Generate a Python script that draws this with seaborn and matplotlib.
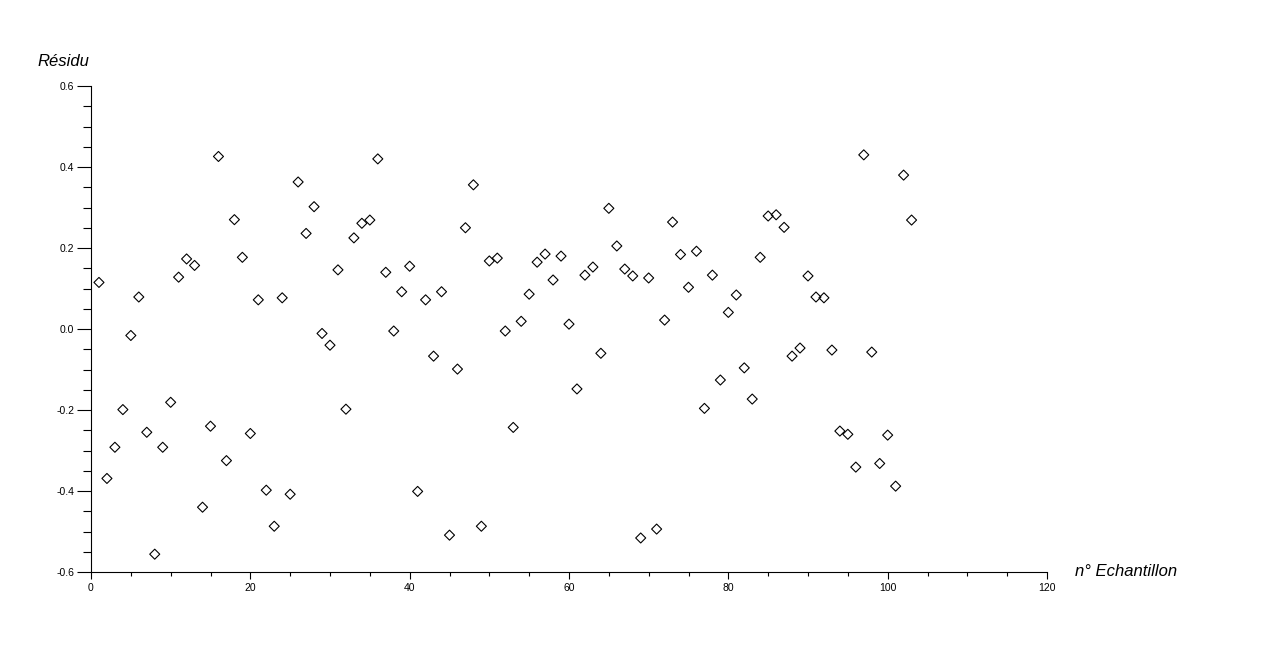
import numpy as np
import pandas as pd
import matplotlib
matplotlib.use('Agg')
import matplotlib.pyplot as plt
import seaborn as sns
from matplotlib.ticker import MultipleLocator

# Residuals per sample
echantillon = list(range(1, 104))
residu = [
    0.115, -0.369, -0.292, -0.199, -0.016, 0.079, -0.255, -0.556, -0.292, -0.181,
    0.128, 0.173, 0.157, -0.440, -0.240, 0.426, -0.325, 0.270, 0.177, -0.258,
    0.072, -0.398, -0.487, 0.077, -0.408, 0.363, 0.236, 0.302, -0.011, -0.040,
    0.146, -0.198, 0.225, 0.261, 0.269, 0.420, 0.140, -0.005, 0.092, 0.155,
    -0.401, 0.072, -0.067, 0.092, -0.509, -0.099, 0.250, 0.356, -0.487, 0.168,
    0.175, -0.005, -0.243, 0.019, 0.086, 0.165, 0.185, 0.121, 0.180, 0.012,
    -0.148, 0.133, 0.153, -0.060, 0.298, 0.205, 0.148, 0.131, -0.516, 0.126,
    -0.494, 0.022, 0.264, 0.184, 0.103, 0.192, -0.196, 0.133, -0.126, 0.041,
    0.084, -0.096, -0.173, 0.177, 0.279, 0.282, 0.251, -0.067, -0.047, 0.131,
    0.079, 0.077, -0.052, -0.252, -0.260, -0.341, 0.430, -0.057, -0.332, -0.262,
    -0.388, 0.380, 0.269,
]

df = pd.DataFrame({'n': echantillon, 'residu': residu})

sns.set_style('ticks')
plt.rcParams['font.family'] = ['Liberation Sans', 'DejaVu Sans']
plt.rcParams['axes.unicode_minus'] = False
plt.rcParams['text.color'] = 'black'
plt.rcParams['xtick.color'] = 'black'
plt.rcParams['ytick.color'] = 'black'

fig = plt.figure(figsize=(12.76, 6.49), dpi=100)
ax = fig.add_axes([91 / 1276, 1 - 572 / 649, (1047 - 91) / 1276, (572 - 86) / 649])

sns.scatterplot(data=df, x='n', y='residu', marker='D', s=26,
                facecolors='none', edgecolor='black', linewidth=0.8, ax=ax)

ax.set_xlim(0, 120)
ax.set_ylim(-0.6, 0.6)
ax.xaxis.set_major_locator(MultipleLocator(20))
ax.xaxis.set_minor_locator(MultipleLocator(5))
ax.yaxis.set_major_locator(MultipleLocator(0.2))
ax.yaxis.set_minor_locator(MultipleLocator(0.05))
ax.yaxis.set_major_formatter(matplotlib.ticker.FormatStrFormatter('%.1f'))

ax.spines['top'].set_visible(False)
ax.spines['right'].set_visible(False)
for side in ['left', 'bottom']:
    ax.spines[side].set_color('black')
    ax.spines[side].set_linewidth(0.8)

ax.tick_params(axis='both', which='both', left=True, bottom=True, top=False, right=False)
ax.tick_params(axis='y', which='major', direction='out', length=10, width=0.8,
               color='black', labelsize=7.5, labelcolor='black', pad=2)
ax.tick_params(axis='y', which='minor', direction='out', length=6, width=0.8, color='black')
ax.tick_params(axis='x', which='major', direction='out', length=5, width=0.8,
               color='black', labelsize=7.5, labelcolor='black', pad=3)
ax.tick_params(axis='x', which='minor', direction='out', length=3, width=0.8, color='black')

ax.set_xlabel('')
ax.set_ylabel('')

fig.text(37 / 1276, 1 - 62 / 649, 'Résidu', fontsize=12, style='italic',
         ha='left', va='center', color='black')
fig.text(1075 / 1276, 1 - 571 / 649, 'n° Echantillon', fontsize=12, style='italic',
         ha='left', va='center', color='black')

fig.savefig('out.png', dpi=100)
